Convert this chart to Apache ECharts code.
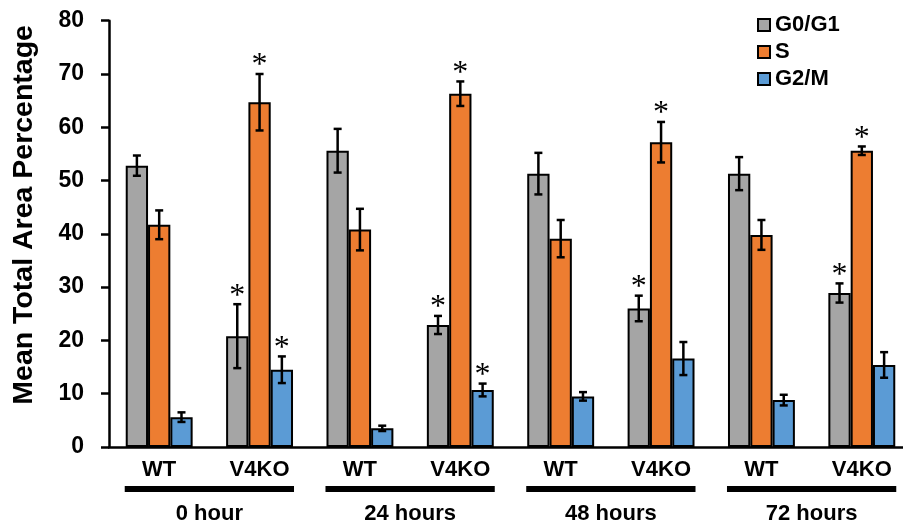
<!DOCTYPE html>
<html>
<head>
<meta charset="utf-8">
<script src="https://cdn.jsdelivr.net/npm/echarts@6/dist/echarts.min.js"></script>
<style>
  html, body { margin: 0; padding: 0; background: #fff; overflow: hidden; }
  #chart { width: 912px; height: 524px; }
</style>
</head>
<body>
<div id="chart"></div>
<script>
// ---- data ----
const categories = ['WT', 'V4KO', 'WT', 'V4KO', 'WT', 'V4KO', 'WT', 'V4KO'];
const groupLabels = ['0 hour', '24 hours', '48 hours', '72 hours'];
const seriesNames = ['G0/G1', 'S', 'G2/M'];

const g0Values = [52.8, 20.8, 55.6, 22.9, 51.3, 26.0, 51.3, 28.9];
const g0Errors = [1.9, 6.0, 4.1, 1.7, 3.9, 2.4, 3.1, 1.8];
const g0Sig    = [0, 1, 0, 1, 0, 1, 0, 1];

const sValues  = [41.7, 64.7, 40.8, 66.3, 39.1, 57.2, 39.8, 55.6];
const sErrors  = [2.7, 5.3, 3.9, 2.3, 3.5, 3.8, 2.8, 0.8];
const sSig     = [0, 1, 0, 1, 0, 1, 0, 1];

const g2Values = [5.6, 14.5, 3.5, 10.7, 9.5, 16.6, 8.8, 15.4];
const g2Errors = [0.9, 2.5, 0.5, 1.2, 0.8, 3.1, 1.0, 2.4];
const g2Sig    = [0, 1, 0, 1, 0, 0, 0, 0];

const yTicks = { min: 0, max: 80, interval: 10 };

// ---- styles ----
const colors = ['#A5A5A5', '#ED7D31', '#5B9BD5'];
const BAR_W = 22.3;
const FONT = 'Liberation Sans, Arial, sans-serif';

const chart = echarts.init(document.getElementById('chart'), null, { renderer: 'canvas' });

const allValues = [g0Values, sValues, g2Values];
const allErrors = [g0Errors, sErrors, g2Errors];
const allSig = [g0Sig, sSig, g2Sig];

const barSeries = seriesNames.map((name, i) => ({
  name: name,
  type: 'bar',
  data: allValues[i],
  barWidth: BAR_W,
  barGap: '0%',
  itemStyle: { color: colors[i], borderColor: '#000', borderWidth: 2 },
  z: 2
}));

const errSeries = seriesNames.map((name, i) => ({
  name: name + ' err',
  type: 'custom',
  z: 5,
  silent: true,
  data: allValues[i].map((v, k) => [k, v, allErrors[i][k], allSig[i][k]]),
  encode: { x: 0, y: 1 },
  renderItem: function (params, api) {
    const idx = api.value(0), v = api.value(1), e = api.value(2), sig = api.value(3);
    const off = (i - 1) * BAR_W;
    const top = api.coord([idx, v + e]);
    const bot = api.coord([idx, v - e]);
    const x = top[0] + off;
    const cap = 4;
    const st = { stroke: '#000', lineWidth: 2.5 };
    const children = [
      { type: 'line', shape: { x1: x, y1: top[1], x2: x, y2: bot[1] }, style: st },
      { type: 'line', shape: { x1: x - cap, y1: top[1], x2: x + cap, y2: top[1] }, style: st },
      { type: 'line', shape: { x1: x - cap, y1: bot[1], x2: x + cap, y2: bot[1] }, style: st }
    ];
    if (sig) {
      children.push({
        type: 'text',
        style: {
          text: '*', x: x, y: top[1] + 8,
          fill: '#000',
          font: '32px "Liberation Serif", "Times New Roman", serif',
          align: 'center', verticalAlign: 'bottom'
        }
      });
    }
    return { type: 'group', children: children };
  }
}));

const option = {
  animation: false,
  backgroundColor: '#fff',
  grid: { left: 109, top: 20.7, width: 803, height: 426.3, containLabel: false },
  legend: {
    data: seriesNames,
    orient: 'vertical',
    left: 752,
    top: 9,
    icon: 'rect',
    itemWidth: 12,
    itemHeight: 12,
    itemGap: 5,
    textStyle: { fontFamily: FONT, fontWeight: 'bold', fontSize: 22, color: '#000' }
  },
  xAxis: {
    type: 'category',
    data: categories,
    axisLine: { lineStyle: { color: '#000', width: 2.5 } },
    axisTick: { show: false },
    axisLabel: { color: '#000', fontFamily: FONT, fontWeight: 'bold', fontSize: 22, margin: 12, interval: 0 }
  },
  yAxis: {
    type: 'value',
    min: yTicks.min,
    max: yTicks.max,
    interval: yTicks.interval,
    name: 'Mean Total Area Percentage',
    nameLocation: 'middle',
    nameGap: 70,
    nameTextStyle: { color: '#000', fontFamily: FONT, fontWeight: 'bold', fontSize: 28.5, padding: [0, 0, 0, 38] },
    axisLine: { show: true, lineStyle: { color: '#000', width: 2.5 } },
    axisTick: { show: true, inside: false, length: 8, lineStyle: { color: '#000', width: 2.5 } },
    axisLabel: { color: '#000', fontFamily: FONT, fontWeight: 'bold', fontSize: 23, margin: 25 },
    splitLine: { show: false }
  },
  series: barSeries.concat(errSeries)
};

chart.setOption(option);

// group brackets and labels beneath the categories
const graphics = [];
groupLabels.forEach((lab, g) => {
  const xa = chart.convertToPixel({ xAxisIndex: 0 }, 2 * g);
  const xb = chart.convertToPixel({ xAxisIndex: 0 }, 2 * g + 1);
  const x1 = xa - 1.5 * BAR_W - 1;
  const x2 = xb + 1.5 * BAR_W + 1;
  graphics.push({
    type: 'rect',
    shape: { x: x1, y: 486, width: x2 - x1, height: 6 },
    style: { fill: '#000' }
  });
  graphics.push({
    type: 'text',
    style: {
      text: lab, x: (x1 + x2) / 2, y: 514,
      fill: '#000', font: 'bold 22px ' + FONT,
      align: 'center', verticalAlign: 'middle'
    }
  });
});
chart.setOption({ graphic: graphics });
</script>
</body>
</html>
